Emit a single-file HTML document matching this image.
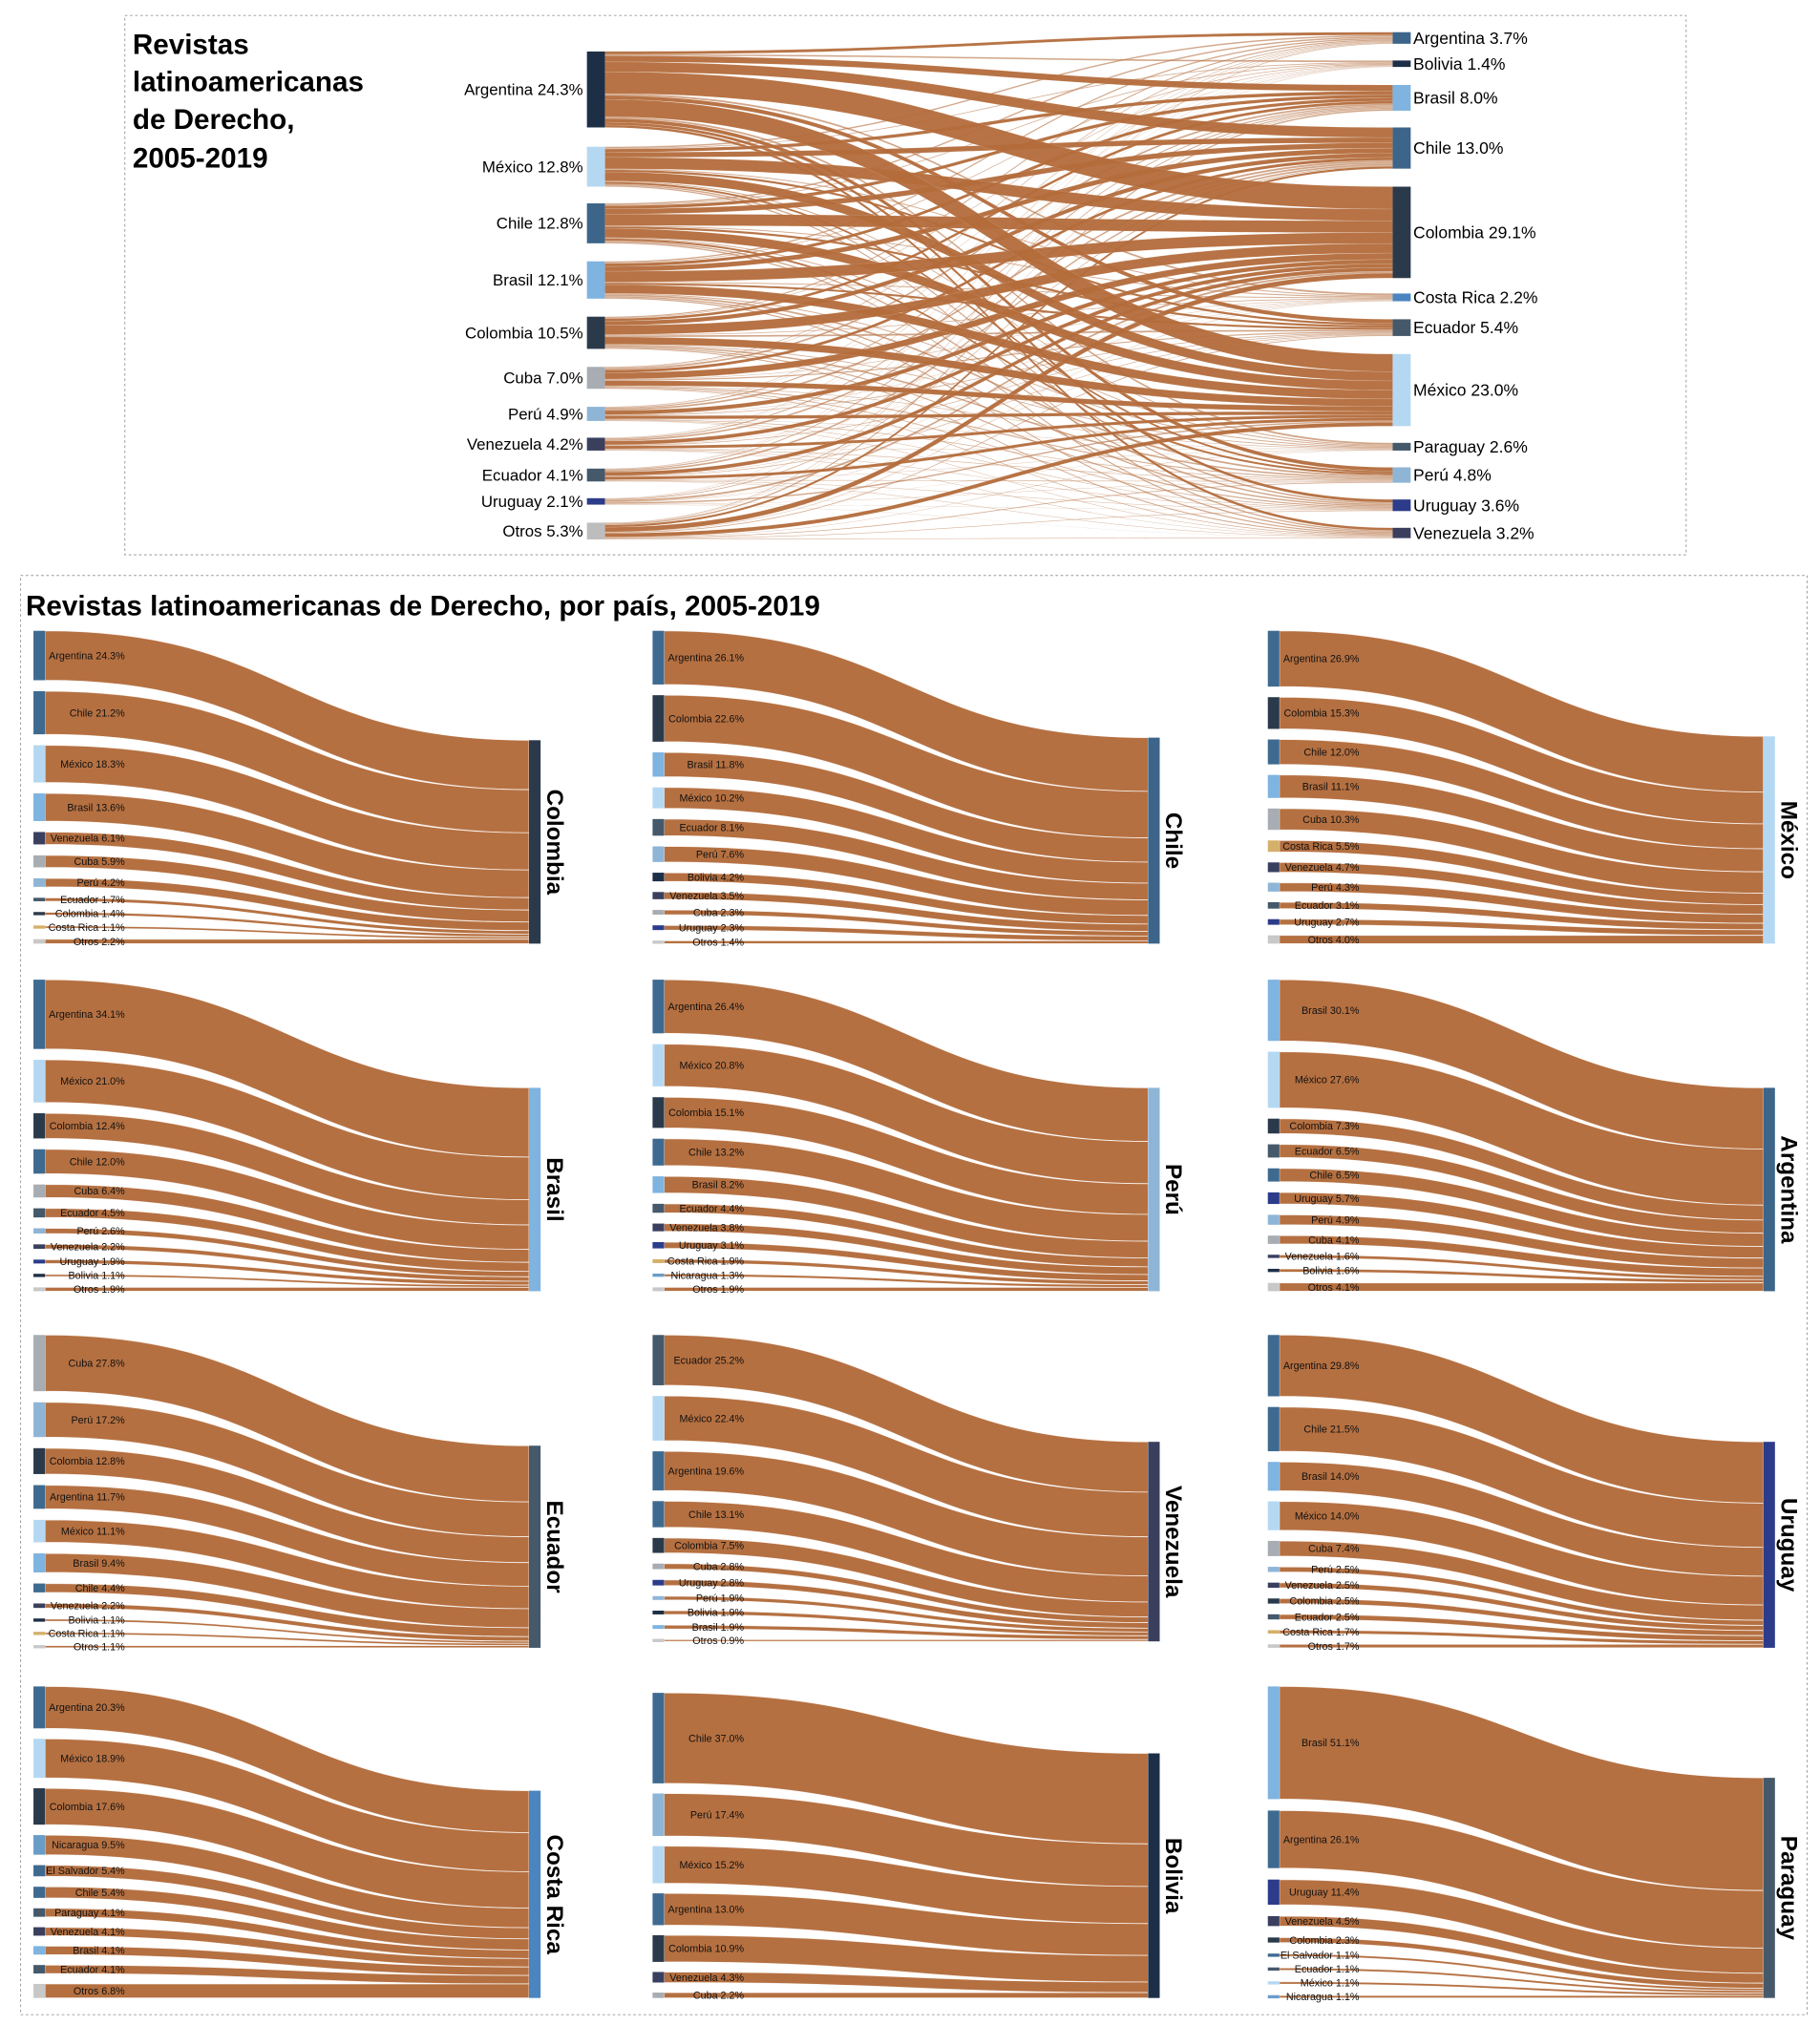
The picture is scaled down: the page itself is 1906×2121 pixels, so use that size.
<!DOCTYPE html>
<html><head><meta charset="utf-8">
<style>
html,body{margin:0;padding:0;background:#fff;}
svg{display:block;}
text{font-family:"Liberation Sans",Arial,sans-serif;}
</style></head>
<body>
<svg id="s" xmlns="http://www.w3.org/2000/svg" width="1906" height="2121" viewBox="0 0 1414 1573" preserveAspectRatio="none">
<rect x="97" y="12" width="1213" height="419" fill="none" stroke="#999" stroke-width="0.7" stroke-dasharray="2,2"/>
<rect x="16" y="447" width="1388" height="1118" fill="none" stroke="#999" stroke-width="0.7" stroke-dasharray="2,2"/>
<g font-weight="bold" font-size="22" fill="#000">
<text x="103" y="42">Revistas</text>
<text x="103" y="71">latinoamericanas</text>
<text x="103" y="100">de Derecho,</text>
<text x="103" y="130">2005-2019</text>
<text x="20" y="478">Revistas latinoamericanas de Derecho, por país, 2005-2019</text>
</g>
<g id="top"></g>
<g id="panels"></g>
</svg>
<script>
var NS="http://www.w3.org/2000/svg";
function el(p,t,a,txt){var e=document.createElementNS(NS,t);for(var k in a)e.setAttribute(k,a[k]);if(txt!=null)e.textContent=txt;p.appendChild(e);return e;}
var C={"Argentina":"#3f6a90","Chile":"#3f6a90","Colombia":"#2b3a4b","México":"#b5d8f2","Brasil":"#7fb3e0","Venezuela":"#3a3f5e","Cuba":"#a8adb3","Perú":"#8fb5d6","Ecuador":"#45596b","Costa Rica":"#d4b06a","Otros":"#c8c8c8","Uruguay":"#2c3c8a","Bolivia":"#1d2f47","Nicaragua":"#6a9cc8","El Salvador":"#3f6a90","Paraguay":"#45596b"};
var LC="#b36b3b";
function rib(g,x0,a0,a1,x1,b0,b1,op,sw,so){var m=(x0+x1)/2;
 el(g,"path",{d:"M"+x0+","+a0+"C"+m+","+a0+" "+m+","+b0+" "+x1+","+b0+"L"+x1+","+b1+"C"+m+","+b1+" "+m+","+a1+" "+x0+","+a1+"Z",fill:LC,"fill-opacity":op,stroke:"#fff","stroke-opacity":so,"stroke-width":sw});}
// TOP
var T=document.getElementById("top");
var L=[["Argentina 24.3%",40,99,"#1d2f47"],["México 12.8%",114,145,"#b5d8f2"],["Chile 12.8%",158,189,"#3d6489"],["Brasil 12.1%",203,232,"#7fb3e0"],["Colombia 10.5%",246,271,"#2b3a4b"],["Cuba 7.0%",285,302,"#a8adb3"],["Perú 4.9%",316,327,"#8fb5d6"],["Venezuela 4.2%",340,350,"#3a3f5e"],["Ecuador 4.1%",364,374,"#45596b"],["Uruguay 2.1%",387,392,"#2c3c8a"],["Otros 5.3%",406,419,"#bdbdbd"]];
var R=[["Argentina 3.7%",25,34,"#3d6489"],["Bolivia 1.4%",47,52,"#1d2f47"],["Brasil 8.0%",66,86,"#7fb3e0"],["Chile 13.0%",99,131,"#3d6489"],["Colombia 29.1%",145,216,"#2b3a4b"],["Costa Rica 2.2%",228,234,"#4a85c0"],["Ecuador 5.4%",248,261,"#45596b"],["México 23.0%",275,331,"#b5d8f2"],["Paraguay 2.6%",344,350,"#45596b"],["Perú 4.8%",363,375,"#8fb5d6"],["Uruguay 3.6%",388,397,"#2c3c8a"],["Venezuela 3.2%",410,418,"#3a3f5e"]];
var S=0,TT=0;L.forEach(function(n){S+=n[2]-n[1]});R.forEach(function(n){TT+=n[2]-n[1]});
var srcOff=L.map(function(n){return n[1]}),tgtOff=R.map(function(n){return n[1]});
var links=[];
for(var i=0;i<L.length;i++)for(var j=0;j<R.length;j++){
 var hs=L[i][2]-L[i][1],ht=R[j][2]-R[j][1];
 links.push({i:i,j:j,ws:hs*ht/TT,wt:ht*hs/S});}
links.forEach(function(l){l.a0=srcOff[l.i];srcOff[l.i]+=l.ws;});
links.sort(function(a,b){return a.j-b.j||a.i-b.i});
links.forEach(function(l){l.b0=tgtOff[l.j];tgtOff[l.j]+=l.wt;});
links.sort(function(a,b){return a.ws-b.ws});
links.forEach(function(l){rib(T,470,l.a0,l.a0+l.ws,1082,l.b0,l.b0+l.wt,l.ws>1.5?0.95:0.6,0.3,0.25)});
L.forEach(function(n){el(T,"rect",{x:456,y:n[1],width:14,height:n[2]-n[1],fill:n[3]});
 el(T,"text",{x:453,y:(n[1]+n[2])/2+4.3,"text-anchor":"end","font-size":12.5},n[0]);});
R.forEach(function(n){el(T,"rect",{x:1082,y:n[1],width:14,height:n[2]-n[1],fill:n[3]});
 el(T,"text",{x:1098,y:(n[1]+n[2])/2+4.5,"font-size":13},n[0]);});
// PANELS
var P=[
["Colombia","#2b3a4b",26,490,733,575,[["Argentina",24.3],["Chile",21.2],["México",18.3],["Brasil",13.6],["Venezuela",6.1],["Cuba",5.9],["Perú",4.2],["Ecuador",1.7],["Colombia",1.4],["Costa Rica",1.1],["Otros",2.2]]],
["Chile","#3d6489",507,490,733,573,[["Argentina",26.1],["Colombia",22.6],["Brasil",11.8],["México",10.2],["Ecuador",8.1],["Perú",7.6],["Bolivia",4.2],["Venezuela",3.5],["Cuba",2.3],["Uruguay",2.3],["Otros",1.4]]],
["México","#b5d8f2",985,490,733,572,[["Argentina",26.9],["Colombia",15.3],["Chile",12.0],["Brasil",11.1],["Cuba",10.3],["Costa Rica",5.5],["Venezuela",4.7],["Perú",4.3],["Ecuador",3.1],["Uruguay",2.7],["Otros",4.0]]],
["Brasil","#7fb3e0",26,761,1003,845,[["Argentina",34.1],["México",21.0],["Colombia",12.4],["Chile",12.0],["Cuba",6.4],["Ecuador",4.5],["Perú",2.6],["Venezuela",2.2],["Uruguay",1.9],["Bolivia",1.1],["Otros",1.9]]],
["Perú","#8fb5d6",507,761,1003,845,[["Argentina",26.4],["México",20.8],["Colombia",15.1],["Chile",13.2],["Brasil",8.2],["Ecuador",4.4],["Venezuela",3.8],["Uruguay",3.1],["Costa Rica",1.9],["Nicaragua",1.3],["Otros",1.9]]],
["Argentina","#3d6489",985,761,1003,845,[["Brasil",30.1],["México",27.6],["Colombia",7.3],["Ecuador",6.5],["Chile",6.5],["Uruguay",5.7],["Perú",4.9],["Cuba",4.1],["Venezuela",1.6],["Bolivia",1.6],["Otros",4.1]]],
["Ecuador","#45596b",26,1037,1280,1123,[["Cuba",27.8],["Perú",17.2],["Colombia",12.8],["Argentina",11.7],["México",11.1],["Brasil",9.4],["Chile",4.4],["Venezuela",2.2],["Bolivia",1.1],["Costa Rica",1.1],["Otros",1.1]]],
["Venezuela","#3a3f5e",507,1037,1275,1120,[["Ecuador",25.2],["México",22.4],["Argentina",19.6],["Chile",13.1],["Colombia",7.5],["Cuba",2.8],["Uruguay",2.8],["Perú",1.9],["Bolivia",1.9],["Brasil",1.9],["Otros",0.9]]],
["Uruguay","#2c3c8a",985,1037,1280,1120,[["Argentina",29.8],["Chile",21.5],["Brasil",14.0],["México",14.0],["Cuba",7.4],["Perú",2.5],["Venezuela",2.5],["Colombia",2.5],["Ecuador",2.5],["Costa Rica",1.7],["Otros",1.7]]],
["Costa Rica","#4a85c0",26,1310,1552,1391,[["Argentina",20.3],["México",18.9],["Colombia",17.6],["Nicaragua",9.5],["El Salvador",5.4],["Chile",5.4],["Paraguay",4.1],["Venezuela",4.1],["Brasil",4.1],["Ecuador",4.1],["Otros",6.8]]],
["Bolivia","#1d2f47",507,1315,1552,1362,[["Chile",37.0],["Perú",17.4],["México",15.2],["Argentina",13.0],["Colombia",10.9],["Venezuela",4.3],["Cuba",2.2]]],
["Paraguay","#45596b",985,1310,1552,1381,[["Brasil",51.1],["Argentina",26.1],["Uruguay",11.4],["Venezuela",4.5],["Colombia",2.3],["El Salvador",1.1],["Ecuador",1.1],["México",1.1],["Nicaragua",1.1]]]
];
var G=document.getElementById("panels");
P.forEach(function(p){
 var name=p[0],col=p[1],x=p[2],y0=p[3],y1=p[4],ty0=p[5],src=p[6];
 var sum=0;src.forEach(function(s){sum+=s[1]});
 var k=(y1-ty0)/sum,pad=(y1-y0-(y1-ty0))/(src.length-1);
 var sx=x+9,tx=x+385;
 var y=y0,ty=ty0,nodes=[];
 src.forEach(function(s){var h=s[1]*k;nodes.push([s,y,h,ty]);y+=h+pad;ty+=h;});
 nodes.forEach(function(n){rib(G,sx,n[1],n[1]+n[2],tx,n[3],n[3]+n[2],0.97,0.6,0.8);});
 nodes.forEach(function(n){var h=Math.max(n[2],2.5);
  el(G,"rect",{x:x,y:n[1]+n[2]/2-h/2,width:9,height:h,fill:C[n[0][0]]||"#888"});
  el(G,"text",{x:x+71,y:n[1]+n[2]/2+2.8,"text-anchor":"end","font-size":8,fill:"#111"},n[0][0]+" "+n[0][1].toFixed(1)+"%");});
 el(G,"rect",{x:tx,y:ty0,width:9,height:y1-ty0,fill:col});
 var cy=(ty0+y1)/2;
 el(G,"text",{x:0,y:0,transform:"translate("+(tx+14)+","+cy+") rotate(90)","text-anchor":"middle","font-size":18,"font-weight":"bold",fill:"#000"},name);
});
</script>
</body></html>
